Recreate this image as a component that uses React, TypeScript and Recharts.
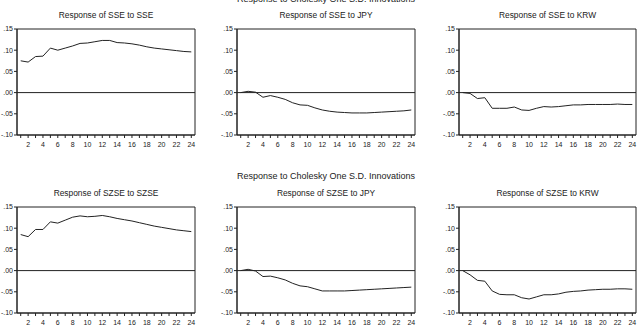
import { LineChart, Line, XAxis, YAxis, ReferenceLine, ReferenceArea } from 'recharts'

// impulse horizons (periods)
const horizons = [1, 2, 3, 4, 5, 6, 7, 8, 9, 10, 11, 12, 13, 14, 15, 16, 17, 18, 19, 20, 21, 22, 23, 24]

// responses
const sseToSse = [0.075, 0.072, 0.085, 0.086, 0.105, 0.1, 0.105, 0.11, 0.116, 0.117, 0.12, 0.123, 0.123, 0.118, 0.117, 0.115, 0.112, 0.108, 0.105, 0.103, 0.101, 0.099, 0.097, 0.096]
const sseToJpy = [0.0, 0.003, 0.001, -0.011, -0.007, -0.011, -0.016, -0.024, -0.029, -0.03, -0.036, -0.041, -0.044, -0.046, -0.047, -0.048, -0.048, -0.048, -0.047, -0.046, -0.045, -0.044, -0.043, -0.041]
const sseToKrw = [0.0, -0.002, -0.014, -0.012, -0.037, -0.037, -0.037, -0.034, -0.041, -0.042, -0.037, -0.033, -0.034, -0.033, -0.031, -0.029, -0.029, -0.028, -0.028, -0.028, -0.028, -0.027, -0.028, -0.028]
const szseToSzse = [0.085, 0.08, 0.097, 0.097, 0.115, 0.112, 0.119, 0.126, 0.129, 0.127, 0.128, 0.13, 0.127, 0.123, 0.12, 0.117, 0.113, 0.109, 0.105, 0.102, 0.099, 0.096, 0.094, 0.092]
const szseToJpy = [0.0, 0.003, -0.001, -0.014, -0.013, -0.017, -0.022, -0.03, -0.036, -0.038, -0.043, -0.048, -0.048, -0.048, -0.048, -0.047, -0.046, -0.045, -0.044, -0.043, -0.042, -0.041, -0.04, -0.039]
const szseToKrw = [0.0, -0.01, -0.023, -0.025, -0.048, -0.056, -0.057, -0.057, -0.064, -0.067, -0.062, -0.057, -0.057, -0.055, -0.051, -0.049, -0.048, -0.046, -0.045, -0.044, -0.044, -0.043, -0.043, -0.044]

const yTicks = [-0.1, -0.05, 0, 0.05, 0.1, 0.15]
const yTickLabels = ['-.10', '-.05', '.00', '.05', '.10', '.15']

const mainTitle = 'Response to Cholesky One S.D. Innovations'

const FONT = '"Liberation Sans", Arial, sans-serif'
const INK = '#222'
const Y_AXIS_W = 17
const PLOT_H = 106
const TOP_PAD = 6

const panels = [
  { title: 'Response of SSE to SSE', values: sseToSse, left: 17, top: 29, plotW: 178 },
  { title: 'Response of SSE to JPY', values: sseToJpy, left: 237, top: 29, plotW: 178 },
  { title: 'Response of SSE to KRW', values: sseToKrw, left: 459, top: 29, plotW: 177 },
  { title: 'Response of SZSE to SZSE', values: szseToSzse, left: 17, top: 207, plotW: 178 },
  { title: 'Response of SZSE to JPY', values: szseToJpy, left: 237, top: 207, plotW: 178 },
  { title: 'Response of SZSE to KRW', values: szseToKrw, left: 459, top: 207, plotW: 177 },
]

function Panel({ values, left, top, plotW }: { values: number[]; left: number; top: number; plotW: number }) {
  const data = horizons.map((h, i) => ({ h, v: values[i] }))
  const tick = { fill: INK, fontSize: 7, fontFamily: FONT }
  return (
    <div style={{ position: 'absolute', left: left - Y_AXIS_W, top: top - TOP_PAD }}>
      <LineChart
        width={Y_AXIS_W + plotW + 2}
        height={PLOT_H + TOP_PAD + 16}
        data={data}
        margin={{ top: TOP_PAD, right: 2, bottom: 0, left: 0 }}
      >
        <XAxis
          dataKey="h"
          type="number"
          domain={[0.5, 24.5]}
          ticks={horizons}
          interval={0}
          tickFormatter={(v: number) => (v % 2 === 0 ? String(v) : '')}
          tick={tick}
          tickSize={3}
          tickMargin={4}
          height={16}
          axisLine={{ stroke: INK }}
          tickLine={{ stroke: INK }}
          allowDataOverflow
        />
        <YAxis
          type="number"
          domain={[-0.1, 0.15]}
          ticks={yTicks}
          interval={0}
          tickFormatter={(v: number) => yTickLabels[yTicks.findIndex((t) => Math.abs(t - v) < 1e-9)] ?? ''}
          tick={tick}
          tickSize={3}
          tickMargin={1}
          width={Y_AXIS_W}
          axisLine={{ stroke: INK }}
          tickLine={{ stroke: INK }}
          allowDataOverflow
        />
        <ReferenceArea x1={0.5} x2={24.5} y1={-0.1} y2={0.15} fill="none" stroke={INK} strokeWidth={1} />
        <ReferenceLine y={0} stroke={INK} strokeWidth={1} />
        <Line
          type="linear"
          dataKey="v"
          stroke={INK}
          strokeWidth={1}
          dot={false}
          isAnimationActive={false}
        />
      </LineChart>
    </div>
  )
}

export default function App() {
  return (
    <div
      style={{
        position: 'absolute',
        left: 0,
        top: 0,
        width: 637,
        height: 330,
        background: '#fff',
        overflow: 'hidden',
      }}
    >
      {panels.map((p) => (
        <Panel key={p.title} values={p.values} left={p.left} top={p.top} plotW={p.plotW} />
      ))}
      <svg width={637} height={330} style={{ position: 'absolute', left: 0, top: 0, pointerEvents: 'none' }}>
        <text x={326} y={1.5} textAnchor="middle" fontSize={9} fontFamily={FONT} fill={INK}>
          {mainTitle}
        </text>
        <text x={326} y={179} textAnchor="middle" fontSize={9} fontFamily={FONT} fill={INK}>
          {mainTitle}
        </text>
        {panels.map((p) => (
          <text
            key={p.title}
            x={p.left + p.plotW / 2}
            y={p.top - 11}
            textAnchor="middle"
            fontSize={8.4}
            fontFamily={FONT}
            fill={INK}
          >
            {p.title}
          </text>
        ))}
      </svg>
    </div>
  )
}
